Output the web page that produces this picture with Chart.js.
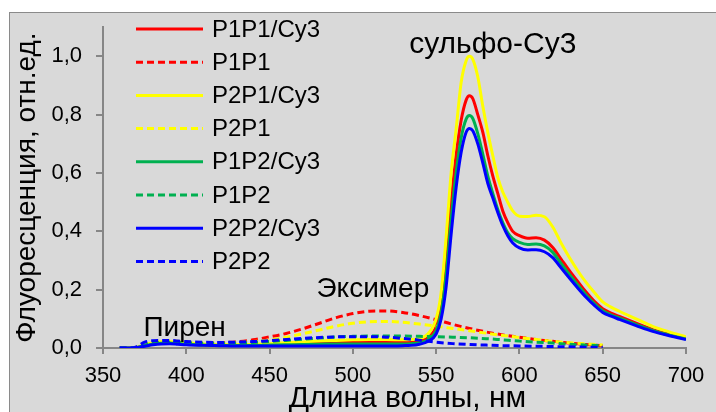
<!DOCTYPE html>
<html>
<head>
<meta charset="utf-8">
<script src="https://cdn.jsdelivr.net/npm/chart.js@4.4.1/dist/chart.umd.min.js"></script>
<style>
  body { margin: 0; background: #fff; }
  #wrap { position: relative; width: 716px; height: 412px; overflow: hidden; }
  #frame { position: absolute; left: 9px; top: 12px; right: 0; bottom: 0;
           background: #d9d9d9; border-left: 1px solid #8a8a8a; border-top: 1px solid #8a8a8a; }
  canvas { position: absolute; left: 0; top: 0; }
</style>
</head>
<body>
<div id="wrap">
  <div id="frame"></div>
  <canvas id="spectra" width="716" height="412"></canvas>
</div>
<script>
// wavelengths, nm
const solidNm = [360, 365, 370, 375, 380, 385, 390, 395, 400, 410, 420, 430, 440, 450, 460, 470, 480, 490, 500, 510, 520, 530, 535, 540, 545, 550, 553, 556, 559, 562, 565, 568, 570, 572, 575, 578, 581, 584, 587, 590, 593, 596, 600, 605, 610, 615, 620, 625, 630, 635, 640, 645, 650, 655, 660, 670, 680, 690, 700];
const dashNm = [360, 365, 370, 375, 380, 385, 390, 395, 400, 410, 420, 430, 440, 450, 460, 470, 480, 490, 500, 510, 520, 530, 540, 550, 560, 570, 580, 590, 600, 610, 620, 630, 640, 650];

// with sulfo-Cy3
const p1p1Cy3 = [0, 0, 0.001, 0.008, 0.014, 0.017, 0.018, 0.016, 0.014, 0.011, 0.010, 0.010, 0.011, 0.012, 0.014, 0.016, 0.018, 0.019, 0.020, 0.020, 0.020, 0.019, 0.020, 0.023, 0.035, 0.075, 0.15, 0.30, 0.50, 0.66, 0.78, 0.85, 0.865, 0.855, 0.80, 0.74, 0.66, 0.59, 0.53, 0.47, 0.43, 0.40, 0.385, 0.376, 0.378, 0.370, 0.345, 0.305, 0.265, 0.228, 0.192, 0.160, 0.135, 0.120, 0.108, 0.085, 0.063, 0.047, 0.033];
const p2p1Cy3 = [0, 0, 0.002, 0.012, 0.018, 0.022, 0.022, 0.020, 0.018, 0.014, 0.012, 0.012, 0.013, 0.015, 0.018, 0.021, 0.024, 0.026, 0.028, 0.029, 0.029, 0.028, 0.029, 0.033, 0.048, 0.10, 0.19, 0.38, 0.60, 0.75, 0.91, 0.985, 1.0, 0.99, 0.93, 0.83, 0.74, 0.66, 0.585, 0.535, 0.50, 0.47, 0.452, 0.451, 0.455, 0.450, 0.415, 0.360, 0.310, 0.265, 0.225, 0.190, 0.158, 0.140, 0.126, 0.100, 0.074, 0.055, 0.038];
const p1p2Cy3 = [0, 0, 0.001, 0.008, 0.013, 0.016, 0.017, 0.015, 0.013, 0.010, 0.009, 0.009, 0.009, 0.010, 0.011, 0.012, 0.013, 0.014, 0.014, 0.014, 0.014, 0.014, 0.015, 0.018, 0.028, 0.060, 0.12, 0.25, 0.44, 0.60, 0.72, 0.785, 0.797, 0.787, 0.735, 0.665, 0.59, 0.53, 0.475, 0.43, 0.395, 0.375, 0.362, 0.355, 0.357, 0.350, 0.328, 0.290, 0.252, 0.216, 0.182, 0.152, 0.128, 0.114, 0.103, 0.081, 0.060, 0.044, 0.031];
const p2p2Cy3 = [0, 0, 0.001, 0.006, 0.011, 0.014, 0.015, 0.013, 0.011, 0.009, 0.008, 0.007, 0.007, 0.007, 0.007, 0.007, 0.007, 0.007, 0.007, 0.007, 0.007, 0.008, 0.009, 0.013, 0.022, 0.048, 0.10, 0.21, 0.39, 0.55, 0.67, 0.74, 0.753, 0.745, 0.70, 0.635, 0.565, 0.515, 0.465, 0.42, 0.385, 0.36, 0.343, 0.336, 0.337, 0.330, 0.310, 0.275, 0.240, 0.206, 0.174, 0.146, 0.122, 0.109, 0.098, 0.077, 0.057, 0.042, 0.029];

// probes alone (pyrene monomer + excimer)
const p1p1 = [0, 0, 0.002, 0.010, 0.015, 0.018, 0.019, 0.018, 0.017, 0.016, 0.018, 0.021, 0.028, 0.038, 0.050, 0.066, 0.085, 0.104, 0.118, 0.126, 0.127, 0.122, 0.111, 0.097, 0.081, 0.067, 0.055, 0.045, 0.037, 0.029, 0.023, 0.017, 0.012, 0.008];
const p2p1 = [0, 0, 0.003, 0.013, 0.020, 0.024, 0.025, 0.023, 0.021, 0.018, 0.017, 0.018, 0.022, 0.028, 0.037, 0.049, 0.062, 0.075, 0.085, 0.090, 0.091, 0.088, 0.082, 0.075, 0.067, 0.059, 0.051, 0.043, 0.036, 0.029, 0.023, 0.018, 0.014, 0.010];
const p1p2 = [0, 0, 0.002, 0.010, 0.016, 0.019, 0.020, 0.019, 0.018, 0.016, 0.016, 0.017, 0.019, 0.022, 0.026, 0.030, 0.034, 0.038, 0.040, 0.041, 0.041, 0.041, 0.040, 0.039, 0.037, 0.035, 0.032, 0.028, 0.024, 0.020, 0.017, 0.013, 0.010, 0.008];
const p2p2 = [0, 0, 0.004, 0.020, 0.025, 0.026, 0.026, 0.024, 0.022, 0.020, 0.019, 0.020, 0.022, 0.025, 0.029, 0.033, 0.036, 0.038, 0.039, 0.039, 0.037, 0.033, 0.027, 0.020, 0.015, 0.012, 0.010, 0.008, 0.007, 0.006, 0.005, 0.004, 0.003, 0.003];

const yTicks = [0, 0.2, 0.4, 0.6, 0.8, 1.0];

const notes = [
  { text: 'сульфо-Cy3', nm: 584, val: 1.01, size: 30 },
  { text: 'Эксимер', nm: 512, val: 0.174, size: 28 },
  { text: 'Пирен', nm: 399, val: 0.04, size: 28 }
];

const FONT = '"Liberation Sans", Arial, sans-serif';
const RED = '#ff0000', YELLOW = '#ffff00', GREEN = '#00b050', BLUE = '#0000ff';
const DASH = [7, 4];

function pts(xs, ys) {
  return xs.map((x, i) => ({ x: x, y: ys[i] }));
}

function series(label, xs, ys, color, dashed, i) {
  return {
    label: label,
    data: pts(xs, ys),
    borderColor: color,
    backgroundColor: color,
    borderWidth: 3,
    borderDash: dashed ? DASH : [],
    pointRadius: 0,
    fill: false,
    cubicInterpolationMode: 'monotone',
    order: -i
  };
}

const datasets = [
  series('P1P1/Cy3', solidNm, p1p1Cy3, RED, false, 0),
  series('P1P1', dashNm, p1p1, RED, true, 1),
  series('P2P1/Cy3', solidNm, p2p1Cy3, YELLOW, false, 2),
  series('P2P1', dashNm, p2p1, YELLOW, true, 3),
  series('P1P2/Cy3', solidNm, p1p2Cy3, GREEN, false, 4),
  series('P1P2', dashNm, p1p2, GREEN, true, 5),
  series('P2P2/Cy3', solidNm, p2p2Cy3, BLUE, false, 6),
  series('P2P2', dashNm, p2p2, BLUE, true, 7)
];

// key in the upper left corner of the plot
const seriesKey = {
  id: 'seriesKey',
  afterDraw(chart) {
    const ctx = chart.ctx;
    ctx.save();
    ctx.font = '24px ' + FONT;
    ctx.textBaseline = 'middle';
    ctx.fillStyle = '#000';
    chart.data.datasets.forEach((ds, i) => {
      const y = 29 + i * 33.2;
      ctx.beginPath();
      ctx.strokeStyle = ds.borderColor;
      ctx.lineWidth = ds.borderWidth;
      ctx.setLineDash(ds.borderDash);
      ctx.moveTo(136, y);
      ctx.lineTo(203, y);
      ctx.stroke();
      ctx.fillText(ds.label, 212, y + 1);
    });
    ctx.restore();
  }
};

// peak captions and the wavelength axis title
const peakNotes = {
  id: 'peakNotes',
  afterDatasetsDraw(chart) {
    const ctx = chart.ctx;
    const xs = chart.scales.x, ys = chart.scales.y;
    const area = chart.chartArea;
    ctx.save();
    ctx.fillStyle = '#000';
    ctx.textAlign = 'center';
    ctx.textBaseline = 'alphabetic';
    notes.forEach(n => {
      ctx.font = n.size + 'px ' + FONT;
      ctx.fillText(n.text, xs.getPixelForValue(n.nm), ys.getPixelForValue(n.val));
    });
    ctx.font = '30px ' + FONT;
    ctx.fillText('Длина волны, нм', (area.left + area.right) / 2 + 13, 407);
    ctx.restore();
  }
};

const axisGray = '#868686';

new Chart(document.getElementById('spectra'), {
  type: 'line',
  data: { datasets: datasets },
  options: {
    responsive: false,
    animation: false,
    layout: { padding: { left: 0, right: 30, top: 26, bottom: 0 } },
    plugins: { legend: { display: false }, tooltip: { enabled: false } },
    scales: {
      x: {
        type: 'linear',
        min: 350,
        max: 700,
        afterFit: s => { s.height = 64; },
        ticks: { stepSize: 50, color: '#000', padding: 9, maxRotation: 0, font: { family: FONT, size: 22 } },
        grid: { drawOnChartArea: false, color: axisGray, lineWidth: 2, tickLength: 6 },
        border: { color: axisGray, width: 2 }
      },
      y: {
        min: 0,
        max: 1.1,
        afterFit: s => { s.width = 103; },
        afterBuildTicks: s => { s.ticks = yTicks.map(v => ({ value: v })); },
        ticks: { color: '#000', padding: 14, font: { family: FONT, size: 22 },
                 callback: v => v.toFixed(1).replace('.', ',') },
        grid: { drawOnChartArea: false, color: axisGray, lineWidth: 2, tickLength: 7 },
        border: { color: axisGray, width: 2 },
        title: { display: true, text: 'Флуоресценция, отн.ед.', color: '#000', padding: { top: 10, bottom: 0 },
                 font: { family: FONT, size: 28 } }
      }
    }
  },
  plugins: [peakNotes, seriesKey]
});
</script>
</body>
</html>
